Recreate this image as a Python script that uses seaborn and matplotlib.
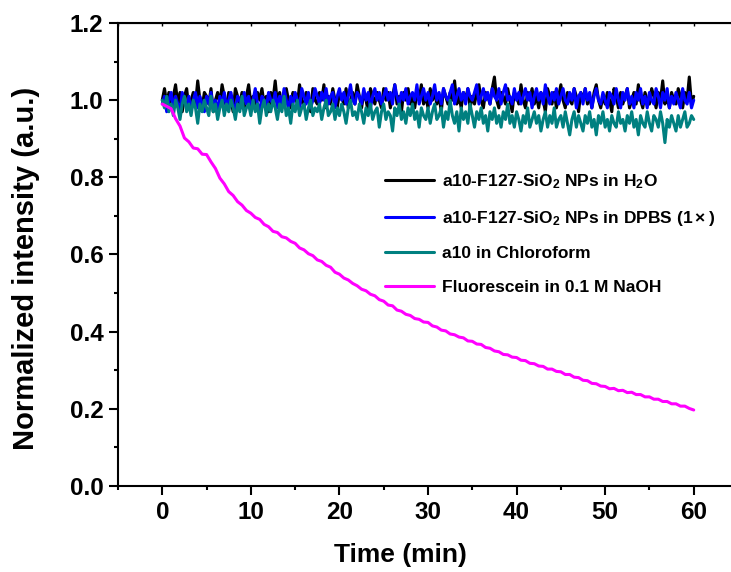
import numpy as np
import pandas as pd
import matplotlib
matplotlib.use("Agg")
import matplotlib.pyplot as plt
from matplotlib.ticker import MultipleLocator, FormatStrFormatter
import seaborn as sns

# sampling grids (min)
t_flat = np.linspace(0, 60, 241)
t_fl = np.linspace(0, 60, 121)

# a10-F127-SiO2 NPs in H2O
h2o = [
    1.00, 1.03, 0.99, 1.02, 0.98, 1.01, 1.04, 0.99, 1.02, 0.97,
    1.01, 1.03, 0.98, 1.00, 1.02, 0.99, 1.05, 1.00, 0.98, 1.02,
    1.01, 0.99, 1.03, 0.97, 1.00, 1.02, 0.99, 1.04, 1.01, 0.98,
    1.02, 1.00, 0.97, 1.03, 1.01, 0.99, 1.02, 0.98, 1.01, 1.04,
    0.99, 1.01, 0.98, 1.02, 1.00, 1.03, 0.99, 1.01, 0.97, 1.02,
    1.00, 1.05, 0.99, 1.02, 0.98, 1.01, 1.03, 1.00, 0.98, 1.02,
    1.01, 0.99, 1.04, 1.00, 0.98, 1.02, 1.01, 0.97, 1.03, 1.00,
    0.99, 1.02, 1.00, 1.04, 0.98, 1.01, 0.99, 1.03, 1.00, 0.98,
    1.02, 1.01, 0.99, 1.03, 0.98, 1.00, 1.02, 0.99, 1.04, 1.01,
    0.98, 1.02, 1.00, 0.97, 1.03, 1.01, 0.99, 1.02, 1.00, 0.98,
    1.03, 1.00, 1.02, 0.98, 1.01, 1.04, 0.99, 1.01, 0.97, 1.02,
    1.00, 1.03, 0.99, 1.01, 0.98, 1.02, 1.00, 1.04, 0.99, 1.01,
    0.98, 1.03, 1.00, 1.02, 0.99, 1.01, 0.97, 1.03, 1.01, 0.99,
    1.02, 1.00, 1.05, 0.99, 1.01, 0.98, 1.02, 1.00, 1.03, 0.98,
    1.01, 0.99, 1.02, 1.04, 1.00, 0.98, 1.02, 1.01, 0.99, 1.03,
    1.06, 1.00, 0.98, 1.02, 1.01, 0.99, 1.03, 1.00, 0.97, 1.02,
    1.01, 0.99, 1.04, 1.00, 0.98, 1.02, 1.00, 1.03, 0.99, 1.01,
    0.98, 1.02, 1.00, 0.97, 1.03, 1.01, 0.99, 1.02, 0.98, 1.01,
    1.04, 1.00, 0.98, 1.02, 1.00, 0.99, 1.03, 1.01, 0.97, 1.02,
    1.00, 1.03, 0.99, 1.01, 0.98, 1.02, 1.04, 1.00, 0.98, 1.01,
    0.99, 1.02, 1.00, 0.97, 1.03, 1.01, 0.98, 1.02, 0.99, 1.01,
    1.03, 0.98, 1.00, 1.02, 0.99, 1.04, 1.00, 0.98, 1.02, 1.00,
    0.99, 1.03, 1.01, 0.98, 1.02, 1.00, 1.05, 0.99, 1.01, 0.98,
    1.02, 1.00, 0.99, 1.03, 1.01, 0.98, 1.02, 1.00, 1.06, 0.99,
    1.01,
]

# a10-F127-SiO2 NPs in DPBS (1x)
dpbs = [
    0.99, 1.01, 0.97, 1.00, 1.02, 0.98, 1.01, 0.99, 0.97, 1.02,
    1.00, 0.98, 1.01, 0.97, 1.00, 1.02, 0.98, 1.01, 0.99, 0.97,
    1.01, 0.99, 1.02, 0.98, 1.00, 0.97, 1.01, 0.99, 1.02, 0.98,
    1.00, 1.02, 0.99, 0.97, 1.01, 1.00, 0.98, 1.02, 0.99, 1.01,
    0.98, 1.00, 1.03, 0.99, 0.97, 1.01, 1.00, 0.98, 1.02, 1.00,
    0.99, 1.02, 0.98, 1.01, 0.99, 1.03, 1.00, 0.98, 1.01, 0.99,
    1.02, 1.00, 0.98, 1.03, 1.01, 0.99, 1.02, 0.98, 1.00, 1.03,
    1.01, 0.99, 1.02, 1.00, 1.03, 0.99, 1.01, 1.02, 0.98, 1.01,
    1.03, 1.00, 1.02, 0.99, 1.01, 1.04, 1.00, 0.99, 1.02, 1.01,
    0.99, 1.03, 1.00, 1.02, 0.98, 1.01, 1.03, 1.00, 1.02, 0.99,
    1.01, 1.03, 1.00, 1.02, 0.99, 1.04, 1.01, 0.99, 1.02, 1.00,
    1.03, 0.99, 1.01, 1.02, 1.00, 1.04, 0.99, 1.01, 1.03, 1.00,
    1.02, 0.99, 1.01, 1.04, 1.00, 1.02, 0.99, 1.03, 1.01, 1.00,
    1.02, 1.04, 0.99, 1.01, 1.03, 1.00, 1.02, 0.99, 1.03, 1.01,
    1.00, 1.02, 1.04, 0.99, 1.01, 1.03, 1.00, 1.02, 0.99, 1.03,
    1.01, 1.00, 1.03, 0.99, 1.02, 1.04, 1.00, 1.01, 0.99, 1.03,
    1.00, 1.02, 0.99, 1.01, 1.03, 1.00, 1.02, 0.98, 1.01, 1.03,
    1.00, 1.02, 0.99, 1.04, 1.01, 0.99, 1.02, 1.00, 1.03, 0.99,
    1.01, 1.03, 1.00, 0.99, 1.02, 1.00, 1.03, 0.98, 1.01, 1.02,
    0.99, 1.03, 1.00, 1.02, 0.98, 1.01, 1.03, 1.00, 0.99, 1.02,
    1.00, 0.98, 1.02, 1.01, 0.99, 1.03, 1.00, 0.98, 1.02, 1.00,
    1.03, 0.99, 1.01, 0.98, 1.02, 1.00, 1.03, 0.99, 1.01, 0.98,
    1.02, 1.00, 0.99, 1.03, 1.01, 0.98, 1.02, 1.00, 1.03, 0.98,
    1.01, 0.99, 1.02, 1.00, 0.98, 1.03, 1.00, 0.99, 1.02, 0.98,
    1.00,
]

# a10 in Chloroform
chcl3 = [
    1.00, 0.98, 1.01, 0.97, 0.99, 0.96, 1.00, 0.98, 0.95, 0.99,
    1.01, 0.97, 0.99, 0.96, 1.00, 0.98, 0.94, 0.99, 0.97, 1.00,
    0.98, 0.96, 1.01, 0.97, 0.99, 0.95, 0.98, 1.00, 0.96, 0.99,
    0.97, 1.00, 0.98, 0.95, 0.99, 0.97, 1.01, 0.96, 0.98, 0.99,
    0.96, 1.00, 0.97, 0.99, 0.94, 0.98, 1.00, 0.96, 0.99, 0.97,
    1.00, 0.98, 0.95, 0.99, 0.97, 1.01, 0.96, 0.98, 0.94, 0.99,
    0.97, 1.00, 0.96, 0.98, 0.99, 0.95, 0.98, 1.00, 0.96, 0.98,
    0.97, 0.99, 0.95, 0.98, 1.00, 0.96, 0.97, 0.99, 0.95, 0.98,
    0.96, 0.99, 0.97, 0.94, 0.98, 1.00, 0.96, 0.97, 0.95, 0.99,
    0.97, 0.94, 0.98, 0.96, 0.99, 0.95, 0.97, 0.98, 0.93, 0.97,
    0.99, 0.95, 0.97, 0.96, 0.92, 0.98, 0.96, 0.99, 0.95, 0.97,
    0.94, 0.98, 0.96, 0.99, 0.95, 0.97, 0.93, 0.98, 0.96, 0.95,
    0.98, 0.94, 0.97, 0.99, 0.95, 0.96, 0.98, 0.93, 0.97, 0.95,
    1.00, 0.96, 0.94, 0.97, 0.92, 0.98, 0.95, 0.97, 0.94, 0.99,
    0.96, 0.93, 0.97, 0.95, 0.98, 0.94, 0.96, 0.92, 0.97, 0.95,
    0.98, 0.94, 0.96, 0.93, 0.97, 0.95, 0.99, 0.94, 0.96, 0.93,
    0.97, 0.95, 0.92, 0.96, 0.94, 0.98, 0.93, 0.95, 0.97, 0.94,
    0.96, 0.92, 0.95, 0.97, 0.93, 0.96, 0.94, 0.98, 0.93, 0.95,
    0.96, 0.93, 0.97, 0.94, 0.91, 0.95, 0.97, 0.93, 0.96, 0.94,
    0.92, 0.96, 0.94, 0.97, 0.93, 0.95, 0.91, 0.96, 0.94, 0.97,
    0.93, 0.95, 0.92, 0.96, 0.94, 0.93, 0.97, 0.94, 0.95, 0.92,
    0.96, 0.94, 0.97, 0.93, 0.95, 0.91, 0.96, 0.94, 0.93, 0.97,
    0.94, 0.92, 0.96, 0.95, 0.93, 0.97, 0.94, 0.89, 0.95, 0.93,
    0.96, 0.94, 0.92, 0.96, 0.93, 0.95, 0.97, 0.93, 0.94, 0.96,
    0.95,
]

# Fluorescein in 0.1 M NaOH
fluorescein = [
    0.990, 0.984, 0.978, 0.952, 0.933, 0.902, 0.892, 0.876, 0.874, 0.860,
    0.859, 0.840, 0.823, 0.798, 0.783, 0.763, 0.753, 0.737, 0.728, 0.714,
    0.707, 0.696, 0.691, 0.678, 0.672, 0.660, 0.657, 0.646, 0.643, 0.634,
    0.629, 0.617, 0.612, 0.602, 0.597, 0.586, 0.582, 0.572, 0.567, 0.554,
    0.549, 0.539, 0.534, 0.525, 0.519, 0.510, 0.506, 0.497, 0.493, 0.483,
    0.479, 0.469, 0.467, 0.456, 0.453, 0.445, 0.442, 0.434, 0.432, 0.425,
    0.424, 0.415, 0.412, 0.404, 0.402, 0.394, 0.392, 0.386, 0.384, 0.376,
    0.375, 0.368, 0.367, 0.359, 0.357, 0.350, 0.348, 0.341, 0.340, 0.334,
    0.333, 0.326, 0.325, 0.318, 0.317, 0.311, 0.310, 0.303, 0.303, 0.297,
    0.296, 0.289, 0.289, 0.282, 0.281, 0.274, 0.273, 0.266, 0.265, 0.259,
    0.258, 0.252, 0.253, 0.247, 0.248, 0.242, 0.243, 0.237, 0.237, 0.231,
    0.231, 0.225, 0.225, 0.219, 0.219, 0.213, 0.213, 0.207, 0.207, 0.201,
    0.197,
]

labels = [
    r"a10-F127-SiO$_\mathbf{2}$ NPs in H$_\mathbf{2}$O",
    r"a10-F127-SiO$_\mathbf{2}$ NPs in DPBS $\mathregular{(1\times)}$",
    "a10 in Chloroform",
    "Fluorescein in 0.1 M NaOH",
]
colors = ["#000000", "#0000ff", "#008080", "#ff00ff"]

sns.set_style("ticks")
plt.rcParams["font.family"] = ["Liberation Sans", "DejaVu Sans"]
plt.rcParams["font.weight"] = "bold"
plt.rcParams["mathtext.fontset"] = "custom"
plt.rcParams["mathtext.rm"] = "Liberation Sans"
plt.rcParams["mathtext.bf"] = "Liberation Sans:bold"
plt.rcParams["mathtext.it"] = "Liberation Sans:italic"
for k in ["text.color", "axes.labelcolor", "axes.edgecolor", "xtick.color", "ytick.color"]:
    plt.rcParams[k] = "black"

fig = plt.figure(figsize=(7.31, 5.72), dpi=100)
# axes runs past the right edge, as in the cropped original
ax = fig.add_axes([118 / 731, 86 / 572, 620 / 731, 463 / 572])

series = [(t_flat, h2o), (t_flat, dpbs), (t_flat, chcl3), (t_fl, fluorescein)]
for (t, y), lab, c in zip(series, labels, colors):
    sns.lineplot(x=t, y=y, ax=ax, color=c, lw=2.2, label=lab,
                 sort=False, estimator=None)

ax.set_xlim(-5, 65)
ax.set_ylim(0, 1.2)
ax.xaxis.set_major_locator(MultipleLocator(10))
ax.xaxis.set_minor_locator(MultipleLocator(5))
ax.yaxis.set_major_locator(MultipleLocator(0.2))
ax.yaxis.set_minor_locator(MultipleLocator(0.1))
ax.yaxis.set_major_formatter(FormatStrFormatter("%.1f"))

for s in ["left", "bottom", "top"]:
    ax.spines[s].set_linewidth(1.5)
ax.spines["right"].set_visible(False)
ax.tick_params(which="major", length=6.5, width=1.5, labelsize=17.5, pad=4)
ax.tick_params(which="minor", length=3, width=1.5)

top = ax.secondary_xaxis("top")
top.xaxis.set_major_locator(MultipleLocator(10))
top.xaxis.set_minor_locator(MultipleLocator(5))
top.tick_params(which="both", direction="in", length=2, width=1, labeltop=False)

ax.set_xlabel("Time (min)", fontsize=19, fontweight="bold")
ax.set_ylabel("Normalized intensity (a.u.)", fontsize=21, fontweight="bold")
ax.xaxis.set_label_coords(400 / 731, 1 - 555 / 572, transform=fig.transFigure)
ax.yaxis.set_label_coords(26 / 731, 1 - 268 / 572, transform=fig.transFigure)
ax.xaxis.label.set_va("center")
ax.yaxis.label.set_va("center")
ax.yaxis.label.set_ha("center")

leg = ax.legend(loc="upper left", bbox_to_anchor=(385 / 731, 1 - 172 / 572),
                bbox_transform=fig.transFigure, frameon=False, fontsize=12.5,
                handlelength=2.8, handletextpad=0.5, labelspacing=1.05,
                borderpad=0, borderaxespad=0)
for line in leg.get_lines():
    line.set_linewidth(2.2)

fig.savefig("out.png", dpi=100)
